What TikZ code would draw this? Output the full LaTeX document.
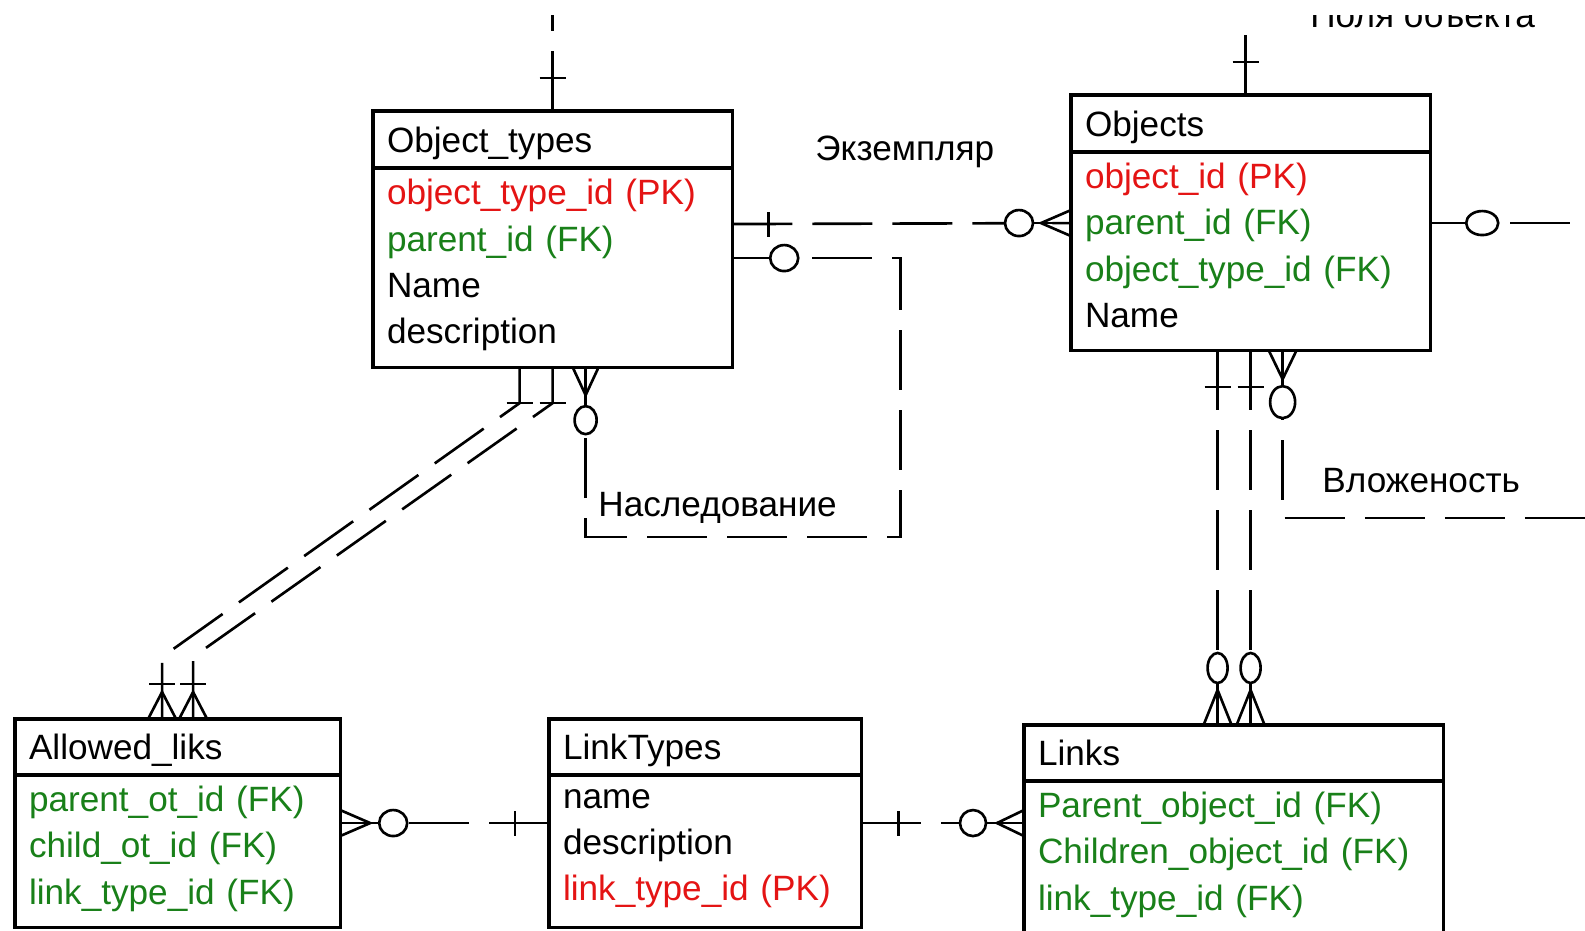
\documentclass[tikz,border=0pt]{standalone}
\usepackage{fontspec}
\setmainfont{Liberation Sans}
\usepackage{tikz}
\usetikzlibrary{positioning}
\definecolor{pkred}{RGB}{228,20,20}
\definecolor{fkgreen}{RGB}{25,128,25}
\newcommand{\lastrow}{\rule[-0.12cm]{0pt}{0pt}}

\begin{document}
\begin{tikzpicture}[x=0.01cm, y=-0.01cm,
   font=\fontsize{10}{13.2}\selectfont,
   enthead/.style={draw, line width=0.9pt, anchor=north west, align=left,
      inner xsep=0.14cm, inner ysep=0pt, outer sep=0pt, text depth=0pt,
      minimum height=0.57cm},
   entbody/.style={draw, line width=0.9pt, align=left,
      inner xsep=0.14cm, inner ysep=0pt, outer sep=0pt},
   rel/.style={line width=0.75pt, dash pattern=on 0.6cm off 0.2cm},
   bar/.style={line width=0.75pt},
   ring/.style={line width=0.75pt, fill=white}]
\useasboundingbox (0,0) rectangle (1585,931);
\clip (0,16) rectangle (1585,931);

% tables
\node[enthead, text width=3.31cm] (ot) at (373,111) {Object\_types};
\node[entbody, text width=3.31cm, minimum height=1.99cm, below=0pt of ot] (otb)
   {\textcolor{pkred}{object\_type\_id (PK)}\\ \textcolor{fkgreen}{parent\_id (FK)}\\ Name\\ description\lastrow};

\node[enthead, text width=3.31cm] (ob) at (1071,95) {Objects};
\node[entbody, text width=3.31cm, minimum height=1.98cm, below=0pt of ob] (obb)
   {\textcolor{pkred}{object\_id (PK)}\\ \textcolor{fkgreen}{parent\_id (FK)}\\ \textcolor{fkgreen}{object\_type\_id (FK)}\\ Name\lastrow};

\node[enthead, text width=2.97cm, minimum height=0.56cm] (al) at (15,719) {Allowed\_liks};
\node[entbody, text width=2.97cm, minimum height=1.52cm, below=0pt of al] (alb)
   {\textcolor{fkgreen}{parent\_ot\_id (FK)}\\ \textcolor{fkgreen}{child\_ot\_id (FK)}\\ \textcolor{fkgreen}{link\_type\_id (FK)}\lastrow};

\node[enthead, text width=2.84cm, minimum height=0.56cm] (lt) at (549,719) {LinkTypes};
\node[entbody, text width=2.84cm, minimum height=1.52cm, below=0pt of lt] (ltb)
   {name\\ description\\ \textcolor{pkred}{link\_type\_id (PK)}\lastrow};

\node[enthead, text width=3.91cm, minimum height=0.56cm] (li) at (1024,725) {Links};
\node[entbody, text width=3.91cm, minimum height=1.52cm, below=0pt of li] (lib)
   {\textcolor{fkgreen}{Parent\_object\_id (FK)}\\ \textcolor{fkgreen}{Children\_object\_id (FK)}\\ \textcolor{fkgreen}{link\_type\_id (FK)}\lastrow};

% labels
\node[anchor=base west] (fieldslbl) at (1298,28) {Поля объекта};
\node[anchor=base west] (instlbl) at (803,161) {Экземпляр};
\node[anchor=base west] (inhlbl) at (586,517) {Наследование};
\node[anchor=base west] (nestlbl) at (1310,493) {Вложеность};

% object type going up
\draw[rel] (ot.north) -- ++(0,-130);
\draw[bar] (ot.north) ++(-13,-33) -- ++(26,0);

% object going up
\coordinate (obup) at ([xshift=-0.05cm]ob.north);
\draw[rel] (obup) -- ++(0,-110);
\draw[bar] (obup) ++(-13,-33) -- ++(26,0);

% Экземпляр
\coordinate (ex1) at ([yshift=-0.56cm]otb.north east);
\coordinate (ex2) at ([yshift=-0.71cm]obb.north west);
\draw[rel] (ex1) -- (ex2);
\draw[bar] (ex1) ++(36,-12) -- ++(0,25);
\draw[bar] (ex2) ++(0,-13) -- ++(-30,13) -- ++(30,13);
\draw[bar] (ex2) ++(-40,0) -- (ex2);
\draw[ring] (ex2) ++(-52,0) ellipse [x radius=0.14cm, y radius=0.13cm];

% Наследование
\coordinate (in1) at ([yshift=-0.90cm]otb.north east);
\coordinate (in2) at ([xshift=0.33cm]otb.south);
\draw[rel] (in1) -- ++(168,0) -- ++(0,279) -| ([yshift=-0.67cm]in2);
\draw[ring] (in1) ++(52,0) ellipse [x radius=0.14cm, y radius=0.13cm];
\draw[bar] (in2) ++(-13,0) -- ++(13,28) -- ++(13,-28);
\draw[bar] (in2) -- ++(0,40);
\draw[ring] (in2) ++(0,53) ellipse [x radius=0.11cm, y radius=0.14cm];

% Object_types -> Allowed_liks
\coordinate (ot1) at ([xshift=-0.33cm]otb.south);
\coordinate (ot2) at (otb.south);
\coordinate (al1) at ([xshift=-0.155cm]al.north);
\coordinate (al2) at ([xshift=0.155cm]al.north);
\draw[rel] (ot1) -- ++(0,36) -- ([yshift=0.62cm]al1) -- (al1);
\draw[bar] (ot1) ++(-13,36) -- ++(26,0);
\draw[bar] (al1) ++(-13,-35) -- ++(26,0);
\draw[bar] (al1) ++(-14,0) -- ++(14,-27) -- ++(14,27);
\draw[rel] (ot2) -- ++(0,36) -- ([yshift=0.62cm]al2) -- (al2);
\draw[bar] (ot2) ++(-13,36) -- ++(26,0);
\draw[bar] (al2) ++(-13,-35) -- ++(26,0);
\draw[bar] (al2) ++(-14,0) -- ++(14,-27) -- ++(14,27);

% Objects -> Links
\coordinate (ob1) at ([xshift=-0.33cm]obb.south);
\coordinate (ob2) at (obb.south);
\coordinate (li1) at (ob1 |- li.north);
\coordinate (li2) at (ob2 |- li.north);
\draw[rel] (ob1) -- (li1);
\draw[bar] (ob1) ++(-13,37) -- ++(26,0);
\draw[bar] (li1) ++(-14,0) -- ++(14,-35) -- ++(14,35);
\draw[bar] (li1) -- ++(0,-45);
\draw[ring] (li1) ++(0,-57) ellipse [x radius=0.10cm, y radius=0.15cm];
\draw[rel] (ob2) -- (li2);
\draw[bar] (ob2) ++(-13,37) -- ++(26,0);
\draw[bar] (li2) ++(-14,0) -- ++(14,-35) -- ++(14,35);
\draw[bar] (li2) -- ++(0,-45);
\draw[ring] (li2) ++(0,-57) ellipse [x radius=0.10cm, y radius=0.15cm];

% Вложеность
\coordinate (ob3) at ([xshift=0.32cm]obb.south);
\coordinate (ob4) at ([yshift=-0.71cm]obb.north east);
\draw[bar] (ob3) ++(-14,0) -- ++(14,29) -- ++(14,-29);
\draw[bar] (ob3) -- ++(0,40);
\draw[rel, dash phase=0.58cm] (ob3) ++(0,68) -- ++(0,100) -- ++(400,0);
\draw[ring] (ob3) ++(0,52) ellipse [x radius=0.125cm, y radius=0.16cm];
\draw[rel] (ob4) -- ++(170,0);
\draw[ring] (ob4) ++(52,0) ellipse [x radius=0.16cm, y radius=0.12cm];

% Allowed_liks - LinkTypes
\coordinate (alr) at ([yshift=-0.48cm]alb.north east);
\coordinate (ltl) at ([yshift=-0.48cm]ltb.north west);
\draw[rel] (ltl) -- (alr);
\draw[bar] (ltl) ++(-34,-12) -- ++(0,25);
\draw[bar] (alr) ++(0,-13) -- ++(30,13) -- ++(-30,13);
\draw[bar] (alr) -- ++(40,0);
\draw[ring] (alr) ++(53,0) ellipse [x radius=0.14cm, y radius=0.13cm];

% LinkTypes - Links
\coordinate (ltr) at ([yshift=-0.48cm]ltb.north east);
\coordinate (lil) at (ltr -| li.west);
\draw[rel] (ltr) -- (lil);
\draw[bar] (ltr) ++(37,-12) -- ++(0,25);
\draw[bar] (lil) ++(0,-13) -- ++(-27,13) -- ++(27,13);
\draw[bar] (lil) -- ++(-38,0);
\draw[ring] (lil) ++(-51,0) ellipse [x radius=0.13cm, y radius=0.13cm];
\end{tikzpicture}
\end{document}
